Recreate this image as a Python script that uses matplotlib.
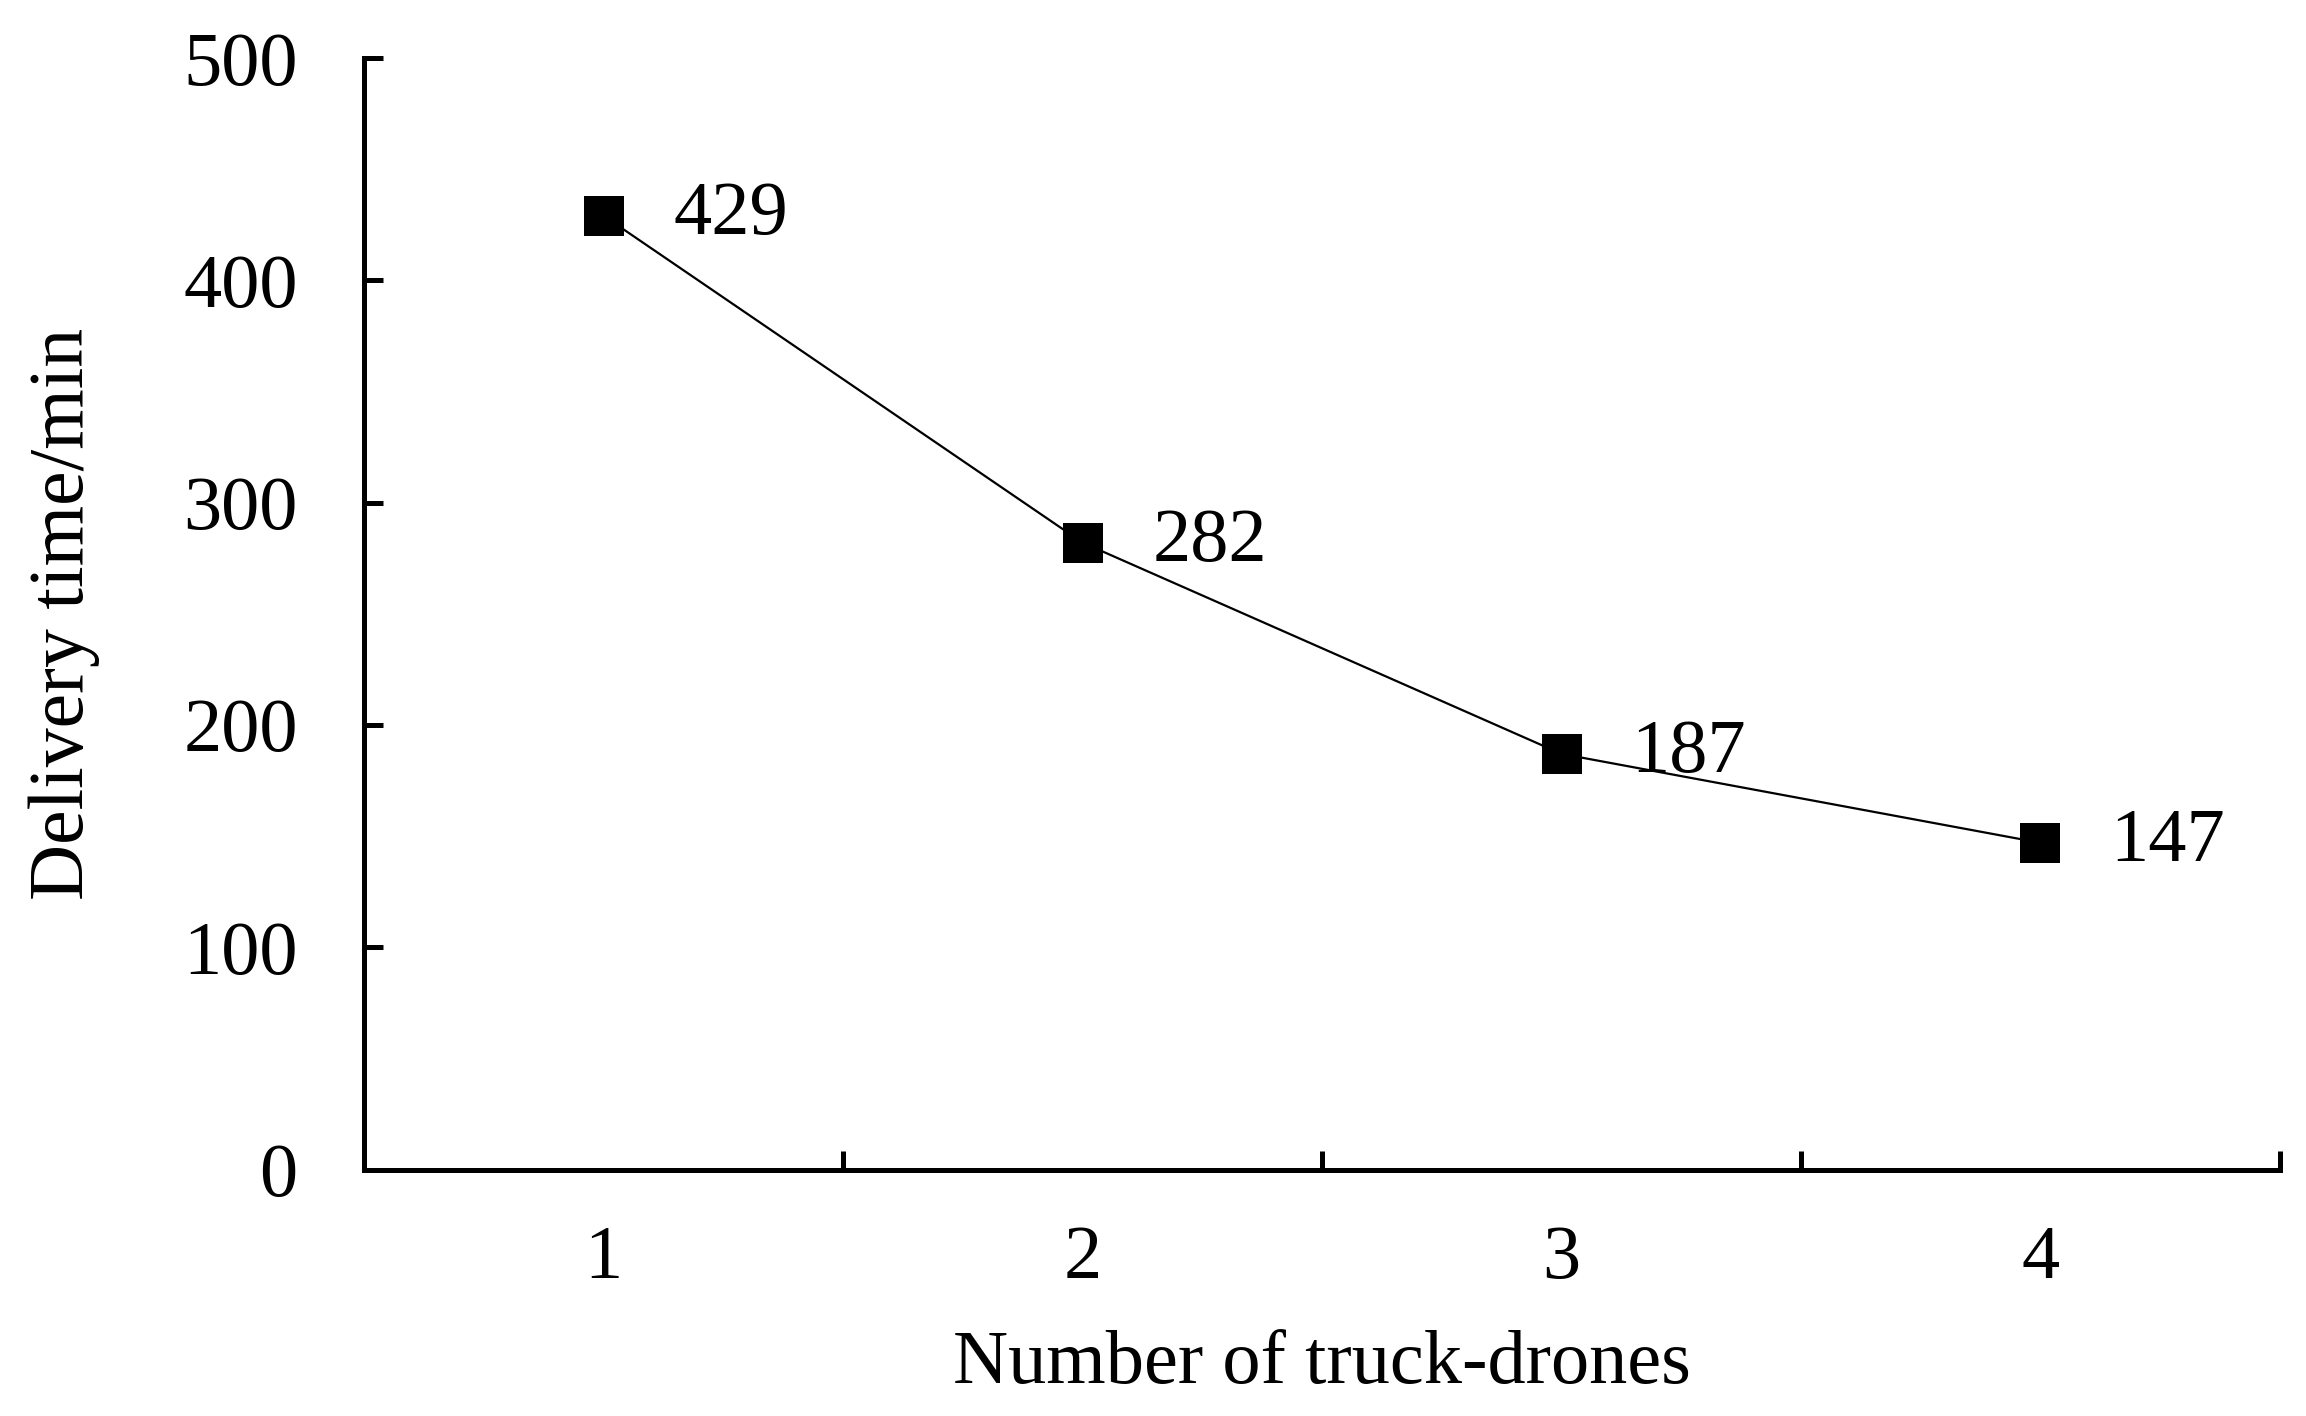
import matplotlib
matplotlib.use("Agg")
import matplotlib.pyplot as plt

plt.rcParams['font.family'] = ['Liberation Serif', 'DejaVu Serif']

num_trucks = [1, 2, 3, 4]
delivery_time = [429, 282, 187, 147]
y_ticks = [0, 100, 200, 300, 400, 500]

fig = plt.figure(figsize=(23.06, 14.16), dpi=100)
ax = fig.add_axes([0.158, 0.174, 0.8307, 0.785])

ax.plot(num_trucks, delivery_time, color='black', linewidth=1.6,
        marker='s', markersize=29, markerfacecolor='black', markeredgewidth=0)

for x, y in zip(num_trucks, delivery_time):
    ax.annotate(str(y), (x, y), xytext=(50, 0), textcoords='offset points',
                ha='left', va='center', fontsize=55)

ax.set_xlim(0.5, 4.5)
ax.set_ylim(0, 500)
ax.set_yticks(y_ticks)
ax.set_xticks(num_trucks)
ax.set_xticks([1.5, 2.5, 3.5, 4.5], minor=True)

# major ticks only carry labels, minor ones sit between categories
ax.tick_params(axis='x', which='major', length=0, pad=40, labelsize=55)
ax.tick_params(axis='x', which='minor', direction='in', length=14, width=3.6)
ax.tick_params(axis='y', direction='in', length=14, width=3.6, pad=48, labelsize=55)

for side in ['top', 'right']:
    ax.spines[side].set_visible(False)
for side in ['left', 'bottom']:
    ax.spines[side].set_linewidth(3.6)

ax.set_xlabel("Number of truck-drones", fontsize=55, labelpad=26)
ax.set_ylabel("Delivery time/min", fontsize=56, labelpad=60)

fig.savefig("out.png", dpi=100)
